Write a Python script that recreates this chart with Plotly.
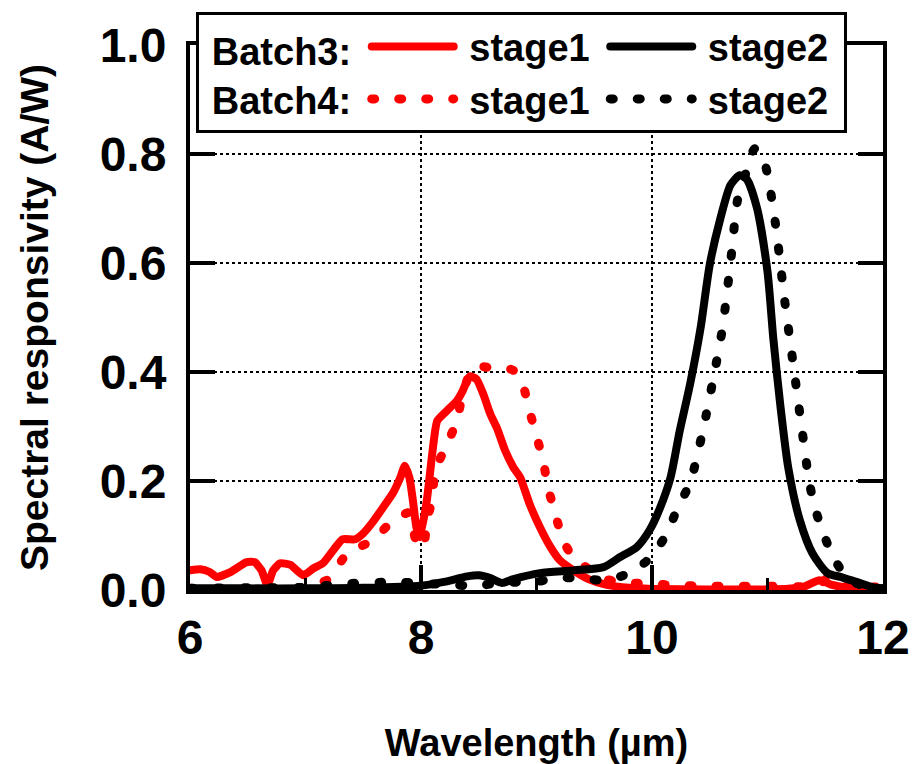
import plotly.graph_objects as go

# ---- data ----
b3s1_x = [6.00, 6.09, 6.17, 6.23, 6.35, 6.49, 6.56, 6.62, 6.67, 6.72, 6.78, 6.87, 6.98, 7.07, 7.15, 7.24,
          7.32, 7.43, 7.50, 7.58, 7.67, 7.76, 7.82, 7.86, 7.90, 7.93, 7.96, 7.99, 8.05, 8.10, 8.14, 8.22,
          8.31, 8.36, 8.42, 8.48, 8.54, 8.60, 8.66, 8.73, 8.80, 8.86, 8.94, 9.03, 9.12, 9.20, 9.32, 9.45,
          9.60, 9.80, 10.0, 10.5, 11.0, 11.3, 11.45, 11.55, 11.7, 12.0]
b3s1_y = [0.036, 0.038, 0.033, 0.024, 0.033, 0.051, 0.051, 0.036, 0.009, 0.036, 0.049, 0.046, 0.027, 0.040,
          0.049, 0.073, 0.093, 0.093, 0.104, 0.124, 0.151, 0.179, 0.206, 0.228, 0.206, 0.164, 0.115, 0.097,
          0.164, 0.255, 0.310, 0.328, 0.347, 0.365, 0.392, 0.387, 0.359, 0.323, 0.296, 0.255, 0.225, 0.206,
          0.158, 0.115, 0.079, 0.055, 0.036, 0.020, 0.010, 0.004, 0.002, 0.001, 0.001, 0.005, 0.018, 0.010,
          0.004, 0.002]

b4s1_x = [6.0, 6.5, 7.0, 7.2, 7.36, 7.58, 7.76, 7.90, 7.95, 8.02, 8.05, 8.10, 8.12, 8.22, 8.31, 8.36, 8.44,
          8.53, 8.62, 8.72, 8.80, 8.88, 8.94, 9.00, 9.06, 9.10, 9.16, 9.23, 9.30, 9.38, 9.5, 9.6, 9.7, 9.9,
          10.1, 10.3, 10.5, 11.0, 11.3, 11.45, 11.52, 11.6, 11.8, 12.0]
b4s1_y = [0.003, 0.003, 0.005, 0.020, 0.067, 0.091, 0.128, 0.142, 0.095, 0.077, 0.124, 0.170, 0.219, 0.265,
          0.310, 0.359, 0.405, 0.410, 0.407, 0.408, 0.403, 0.378, 0.328, 0.283, 0.234, 0.188, 0.141, 0.091,
          0.065, 0.049, 0.032, 0.020, 0.015, 0.012, 0.010, 0.008, 0.007, 0.007, 0.006, 0.010, 0.022, 0.008,
          0.006, 0.005]

b3s2_x = [6.0, 6.5, 7.0, 7.5, 8.0, 8.2, 8.4, 8.5, 8.6, 8.7, 8.8, 9.03, 9.32, 9.58, 9.72, 9.87, 9.98, 10.07,
          10.16, 10.24, 10.33, 10.42, 10.50, 10.59, 10.68, 10.76, 10.82, 10.91, 11.00, 11.05, 11.11, 11.18,
          11.28, 11.39, 11.52, 11.63, 11.77, 11.91, 12.0]
b3s2_y = [0.003, 0.003, 0.003, 0.004, 0.008, 0.015, 0.025, 0.027, 0.022, 0.013, 0.020, 0.031, 0.036, 0.042,
          0.060, 0.079, 0.110, 0.151, 0.206, 0.292, 0.378, 0.480, 0.597, 0.680, 0.743, 0.761, 0.754, 0.700,
          0.584, 0.462, 0.341, 0.224, 0.128, 0.067, 0.031, 0.024, 0.015, 0.005, 0.003]

b4s2_x = [6.0, 6.5, 7.0, 7.4, 7.65, 7.85, 8.2, 8.5, 8.7, 9.0, 9.15, 9.35, 9.6, 9.8, 9.98, 10.13, 10.22, 10.33,
          10.44, 10.53, 10.61, 10.69, 10.74, 10.81, 10.89, 10.95, 11.00, 11.07, 11.15, 11.21, 11.30, 11.36,
          11.41, 11.48, 11.57, 11.7, 11.85, 12.0]
b4s2_y = [0.003, 0.004, 0.005, 0.012, 0.014, 0.014, 0.010, 0.008, 0.014, 0.015, 0.022, 0.022, 0.018, 0.031,
          0.058, 0.104, 0.150, 0.197, 0.292, 0.387, 0.480, 0.620, 0.715, 0.763, 0.810, 0.800, 0.763, 0.670,
          0.529, 0.434, 0.292, 0.200, 0.151, 0.106, 0.060, 0.020, 0.006, 0.002]

x_ticks = [6, 8, 10, 12]
x_minor = [7, 9, 11]
y_ticks = [0.0, 0.2, 0.4, 0.6, 0.8, 1.0]
series_names = ["stage1", "stage2"]
batch_labels = ["Batch3:", "Batch4:"]

FONT = "Liberation Sans, Arial, sans-serif"
LW = 8
DOT = "3px,24px"
NB = "\u00a0"

fig = go.Figure()
fig.add_trace(go.Scatter(x=b3s1_x, y=b3s1_y, mode="lines", name=NB + series_names[0] + NB,
                         legendgroup="s1", legendrank=1,
                         line=dict(color="#ff0000", width=LW, shape="spline", smoothing=0.5)))
fig.add_trace(go.Scatter(x=b4s1_x, y=b4s1_y, mode="lines", name=NB + series_names[0] + NB,
                         legendgroup="s1", legendrank=2,
                         line=dict(color="#ff0000", width=LW + 1, dash=DOT, shape="spline", smoothing=0.5)))
fig.add_trace(go.Scatter(x=b3s2_x, y=b3s2_y, mode="lines", name=NB + series_names[1] + NB,
                         legendgroup="s2", legendrank=3,
                         line=dict(color="#000000", width=LW, shape="spline", smoothing=0.7)))
fig.add_trace(go.Scatter(x=b4s2_x, y=b4s2_y, mode="lines", name=NB + series_names[1] + NB,
                         legendgroup="s2", legendrank=4,
                         line=dict(color="#000000", width=LW + 1, dash=DOT, shape="spline", smoothing=0.7)))

fig.update_layout(
    width=914, height=764,
    margin=dict(l=190, r=31, t=42, b=174),
    paper_bgcolor="white", plot_bgcolor="white",
    font=dict(family=FONT, color="black", size=38, weight="bold"),
    showlegend=True,
    legend=dict(
        orientation="h", traceorder="grouped",
        x=0.009, xanchor="left", y=1.06, yanchor="top",
        bgcolor="white", bordercolor="black", borderwidth=3,
        font=dict(family=FONT, size=38, color="black", weight="bold"),
        title=dict(text=NB + batch_labels[0] + NB + "<br>" + NB + batch_labels[1] + NB, side="left",
                   font=dict(family=FONT, size=38, color="black", weight="bold")),
        itemwidth=82, tracegroupgap=20,
    ),
    xaxis=dict(
        range=[6, 12], tickvals=x_ticks, ticktext=[str(v) for v in x_ticks],
        ticks="inside", ticklen=25, tickwidth=4, tickcolor="black",
        showline=True, linewidth=4, linecolor="black", mirror="ticks",
        showgrid=True, gridcolor="black", griddash="dot", gridwidth=1.5,
        zeroline=False, automargin=False,
        minor=dict(tickvals=x_minor, ticks="inside", ticklen=12, tickwidth=3, tickcolor="black", showgrid=False),
        tickfont=dict(family=FONT, size=48, color="black", weight="bold"),
        ticklabelstandoff=2,
        title=dict(text="Wavelength (µm)", standoff=75,
                   font=dict(family=FONT, size=38, color="black", weight="bold")),
    ),
    yaxis=dict(
        range=[0, 1], tickvals=y_ticks, ticktext=[f"{v:.1f}" for v in y_ticks],
        ticks="inside", ticklen=25, tickwidth=4, tickcolor="black",
        showline=True, linewidth=4, linecolor="black", mirror="ticks",
        showgrid=True, gridcolor="black", griddash="dot", gridwidth=1.5,
        zeroline=False, automargin=False,
        tickfont=dict(family=FONT, size=48, color="black", weight="bold"),
        ticklabelstandoff=10,
        title=dict(text="Spectral responsivity (A/W)", standoff=40,
                   font=dict(family=FONT, size=39, color="black", weight="bold")),
    ),
)

post = """
var fix=function(){document.querySelectorAll('path.js-line, .legendlines path, .legend path.js-line').forEach(function(p){p.style.strokeLinecap='round';p.style.strokeLinejoin='round';});};
fix(); setTimeout(fix,50); setTimeout(fix,300);
"""
fig.write_html("out.html", post_script=post)
